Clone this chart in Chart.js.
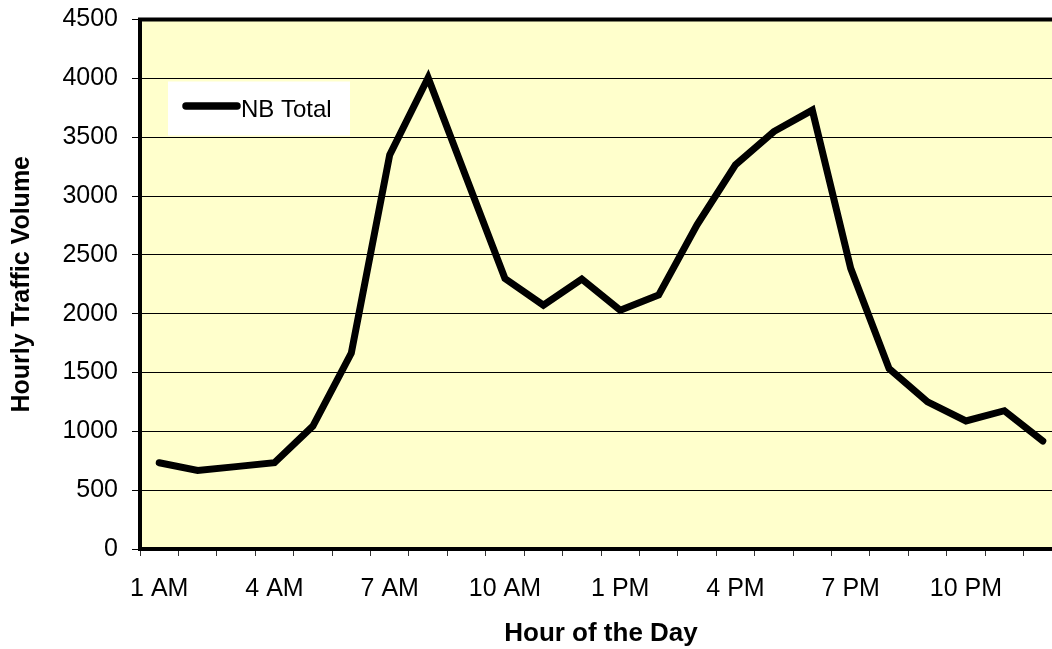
<!DOCTYPE html>
<html>
<head>
<meta charset="utf-8">
<title>Hourly Traffic Volume</title>
<script src="https://cdn.jsdelivr.net/npm/chart.js@4.4.1/dist/chart.umd.min.js"></script>
<style>
  html, body { margin: 0; padding: 0; background: #ffffff; overflow: hidden; }
  #wrap { width: 1052px; height: 649px; overflow: hidden; position: relative; }
  canvas { display: block; }
</style>
</head>
<body>
<div id="wrap"><canvas id="chart" width="1070" height="649"></canvas></div>
<script>
// Hour of the day (one category per hour)
const hours = [
  '1 AM', '2 AM', '3 AM', '4 AM', '5 AM', '6 AM', '7 AM', '8 AM', '9 AM', '10 AM', '11 AM', '12 PM',
  '1 PM', '2 PM', '3 PM', '4 PM', '5 PM', '6 PM', '7 PM', '8 PM', '9 PM', '10 PM', '11 PM', '12 AM'
];

// Hours that carry a visible axis label
const labeledHours = ['1 AM', '4 AM', '7 AM', '10 AM', '1 PM', '4 PM', '7 PM', '10 PM'];

// Northbound total vehicles per hour
const nbTotal = [
  733, 667, 700, 733, 1045, 1665, 3350, 4005, 3150, 2298, 2072, 2294,
  2030, 2158, 2755, 3265, 3548, 3730, 2385, 1532, 1250, 1088, 1175, 918
];

// Y axis range and step
const yMin = 0;
const yMax = 4500;
const yStep = 500;

const FONT = "'Liberation Sans', Arial, sans-serif";

// Pale yellow plot background and heavy frame around it
const plotFrame = {
  id: 'plotFrame',
  beforeDraw(chart) {
    const a = chart.chartArea, ctx = chart.ctx;
    ctx.save();
    ctx.fillStyle = '#FFFFCC';
    ctx.fillRect(a.left, a.top, a.right - a.left, a.bottom - a.top);
    ctx.restore();
  },
  afterDatasetsDraw(chart) {
    const a = chart.chartArea, ctx = chart.ctx;
    ctx.save();
    ctx.strokeStyle = '#000000';
    ctx.lineWidth = 4;
    ctx.strokeRect(a.left, a.top, a.right - a.left, a.bottom - a.top);
    ctx.restore();
  }
};

// Legend box placed inside the plot, near the top-left corner
const innerLegend = {
  id: 'innerLegend',
  afterDraw(chart) {
    const a = chart.chartArea, ctx = chart.ctx;
    const ds = chart.data.datasets[0];
    const bx = a.left + 28, by = a.top + 62, bw = 182, bh = 54;
    ctx.save();
    ctx.fillStyle = '#ffffff';
    ctx.fillRect(bx, by, bw, bh);
    const ly = by + 24.5;
    ctx.strokeStyle = ds.borderColor;
    ctx.lineWidth = 7.5;
    ctx.lineCap = 'round';
    ctx.beginPath();
    ctx.moveTo(bx + 18, ly);
    ctx.lineTo(bx + 69, ly);
    ctx.stroke();
    ctx.fillStyle = '#000000';
    ctx.font = '24px ' + FONT;
    ctx.textBaseline = 'alphabetic';
    ctx.textAlign = 'left';
    ctx.fillText(ds.label, bx + 73, by + 35);
    ctx.restore();
  }
};

new Chart(document.getElementById('chart'), {
  type: 'line',
  data: {
    labels: hours,
    datasets: [{
      label: 'NB Total',
      data: nbTotal,
      borderColor: '#000000',
      borderWidth: 7,
      borderCapStyle: 'round',
      borderJoinStyle: 'miter',
      pointRadius: 0,
      pointHoverRadius: 0,
      tension: 0,
      fill: false
    }]
  },
  options: {
    responsive: false,
    animation: false,
    devicePixelRatio: 1,
    layout: { padding: { top: 19.5, right: 8, bottom: 0, left: 0 } },
    plugins: {
      legend: { display: false },
      tooltip: { enabled: false },
      title: { display: false }
    },
    scales: {
      x: {
        type: 'category',
        offset: true,
        afterFit(scale) {
          scale.height = 100;
          scale.paddingLeft = 0;
          scale.paddingRight = 0;
        },
        grid: {
          offset: true,
          drawOnChartArea: false,
          drawTicks: true,
          tickLength: 7,
          color: '#333333',
          lineWidth: 1
        },
        border: { display: false },
        ticks: {
          autoSkip: false,
          maxRotation: 0,
          minRotation: 0,
          padding: 18,
          color: '#000000',
          font: { family: FONT, size: 25 },
          callback(value, index) {
            const h = hours[index];
            return labeledHours.includes(h) ? h : '';
          }
        },
        title: {
          display: true,
          text: 'Hour of the Day',
          color: '#000000',
          font: { family: FONT, size: 26, weight: 'bold' },
          padding: { top: 0, bottom: 0 }
        }
      },
      y: {
        min: yMin,
        max: yMax,
        afterFit(scale) {
          scale.width = 140;
          scale.paddingTop = 0;
          scale.paddingBottom = 0;
        },
        grid: {
          color: '#000000',
          lineWidth: 1,
          drawTicks: true,
          tickLength: 8
        },
        border: { display: false },
        ticks: {
          stepSize: yStep,
          padding: 14,
          color: '#000000',
          font: { family: FONT, size: 25 },
          callback(value) { return String(value); }
        },
        title: {
          display: true,
          text: 'Hourly Traffic Volume',
          color: '#000000',
          font: { family: FONT, size: 25, weight: 'bold' },
          padding: { top: 7, bottom: 0 }
        }
      }
    }
  },
  plugins: [plotFrame, innerLegend]
});
</script>
</body>
</html>
